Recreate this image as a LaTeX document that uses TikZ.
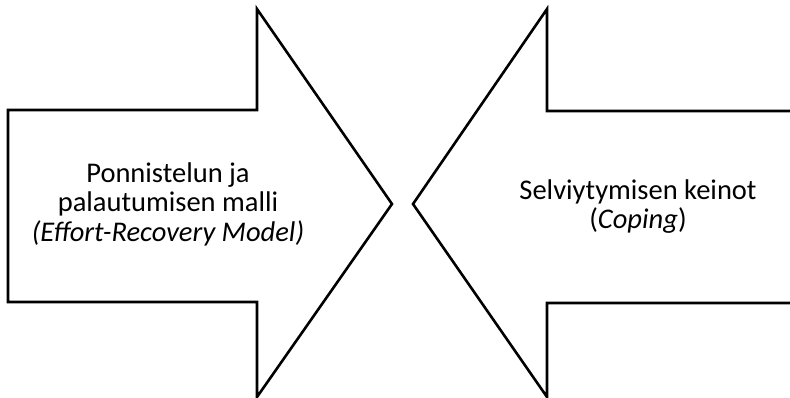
\documentclass[tikz,border=0pt]{standalone}
\usepackage{fontspec}
\setmainfont{Carlito}
\begin{document}
\begin{tikzpicture}[x=1pt,y=-1pt,
  arrowshape/.style={draw=black,line width=2.6pt,fill=white},
  label/.style={align=center,font=\fontsize{28.5}{29.5}\selectfont,inner sep=0pt}]
\useasboundingbox (0,0) rectangle (790,398);
\fill[white] (0,0) rectangle (790,398);
\draw[arrowshape] (8,110) -- (257,110) -- (257,9) -- (392,204) -- (257,397) -- (257,302) -- (8,302) -- cycle;
\draw[arrowshape] (800,111) -- (547,111) -- (547,9) -- (413,204) -- (547,397) -- (547,303) -- (800,303) -- cycle;
\node[label] (left) at (168,204) {Ponnistelun ja\\palautumisen malli\\\textit{(Effort-Recovery Model)}};
\node[label] (right) at (638,206.5) {Selviytymisen keinot\\(\textit{Coping})};
\end{tikzpicture}
\end{document}
